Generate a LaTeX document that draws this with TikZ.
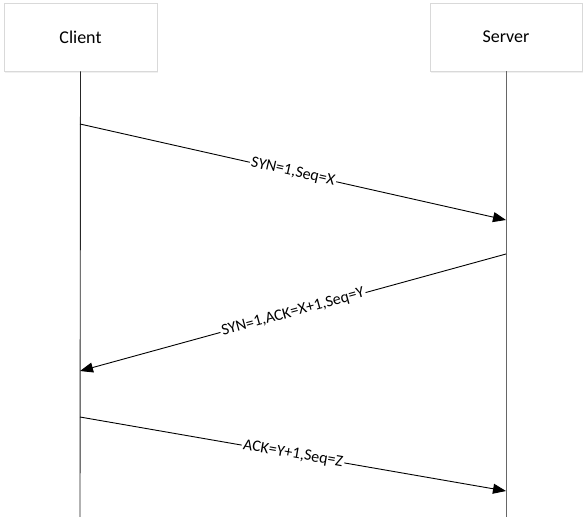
\documentclass[tikz,border=0pt]{standalone}
\usepackage{fontspec}
\setmainfont{Carlito}
\usepackage{tikz}
\usetikzlibrary{arrows.meta, positioning, shadows}

\begin{document}
\begin{tikzpicture}[x=1pt, y=-1pt, line width=0.9pt]
    \useasboundingbox (0,0) rectangle (587,517);
        % Define nodes
        \node (client) [rectangle, draw=gray!30, fill=white, minimum width=153pt, minimum height=68pt, drop shadow={opacity=0.12, shadow xshift=1pt, shadow yshift=-1.5pt}, font=\fontsize{18}{21}\selectfont] at (80.5,37) {Client};
        \node (server) [rectangle, draw=gray!30, fill=white, minimum width=152pt, minimum height=68pt, drop shadow={opacity=0.12, shadow xshift=1pt, shadow yshift=-1.5pt}, font=\fontsize{18}{21}\selectfont] at (506,37) {Server};

        % Lifeline ends and message points
        \coordinate (cend) at (80,517);
        \coordinate (send) at (506,517);
        \coordinate (c1) at (80,124);
        \coordinate (s1) at (506,220);
        \coordinate (s2) at (506,254);
        \coordinate (c2) at (80,371);
        \coordinate (c3) at (80,417);
        \coordinate (s3) at (506,491);

        % Draw lifelines
        \draw[black!85] (client.south) -- (cend);
        \draw[black!60] (server.south) -- (send);

        % Draw arrows
        \draw[-{Triangle[length=13pt,width=10pt]}] (c1) -- node[sloped, fill=white, inner sep=1.5pt, font=\fontsize{16}{18}\selectfont] {SYN=1,Seq=X} (s1);
        \draw[-{Triangle[length=13pt,width=10pt]}] (s2) -- node[sloped, fill=white, inner sep=1.5pt, font=\fontsize{16}{18}\selectfont] {SYN=1,ACK=X+1,Seq=Y} (c2);
        \draw[-{Triangle[length=13pt,width=10pt]}] (c3) -- node[sloped, fill=white, inner sep=1.5pt, font=\fontsize{16}{18}\selectfont] {ACK=Y+1,Seq=Z} (s3);
    \end{tikzpicture}
\end{document}
